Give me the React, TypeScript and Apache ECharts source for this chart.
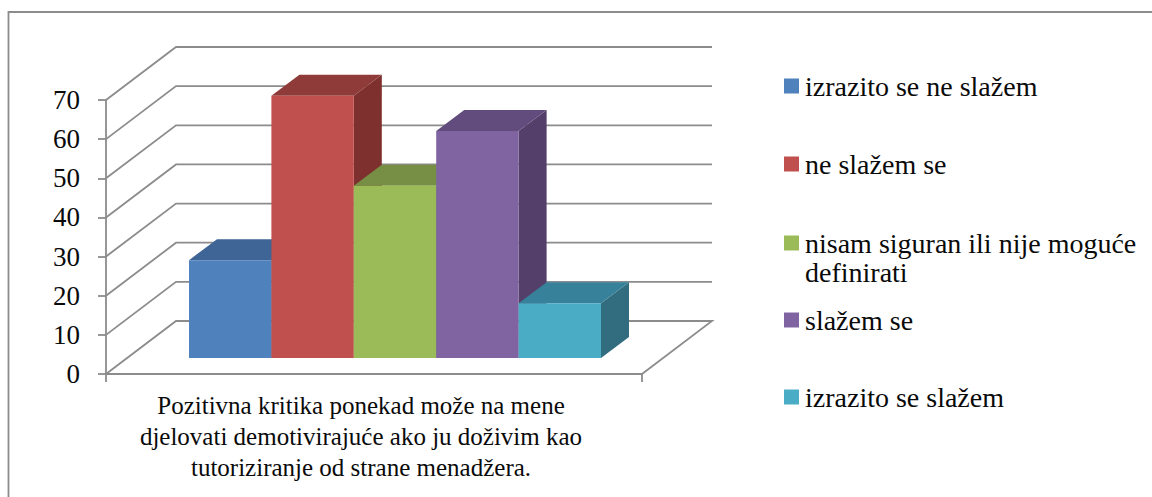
import React, { useEffect, useRef } from "react";
import * as echarts from "echarts";

const categories = ["Pozitivna kritika ponekad može na mene\ndjelovati demotivirajuće ako ju doživim kao\ntutoriziranje od strane menadžera."];
const seriesNames = ["izrazito se ne slažem", "ne slažem se", "nisam siguran ili nije moguće definirati", "slažem se", "izrazito se slažem"];
const seriesValues = [25, 67, 44, 58, 14];
const frontColors = ["#4F81BD", "#C0504D", "#9BBB59", "#8064A2", "#4BACC6"];
const topColors = ["#3E6595", "#8F3B39", "#768F44", "#624C7E", "#37819A"];
const sideColors = ["#335479", "#7E302E", "#617536", "#533F69", "#316D7F"];
const yTicks = [0, 10, 20, 30, 40, 50, 60, 70];
const legendCenters = [86, 164, 243, 320, 397];

const FONT = "Liberation Serif";
const LINE = "#8C8C8C";
const INK = "#0A0A0A";

export default function App() {
  const ref = useRef<HTMLDivElement>(null);
  useEffect(() => {
    document.body.style.margin = "0";
    const chart = echarts.init(ref.current!, null, { renderer: "svg" });

    const wallDx = 70, wallDy = 53;
    const barOffX = 83, barOffY = 16, barW = 82.4, depthX = 28, depthY = 21;

    const wallSeries: any = {
      type: "custom",
      name: "walls",
      silent: true,
      z: 1,
      clip: false,
      data: yTicks.map((v) => [0, v]),
      encode: { x: 0, y: 1 },
      renderItem: (_p: any, api: any) => {
        const v = api.value(1);
        const c = api.coord([0, v]);
        const w = api.size([1, 0])[0];
        const l = c[0] - w / 2, r = c[0] + w / 2, y = c[1];
        const style = { stroke: LINE, lineWidth: 1.8, fill: "none" };
        const pts = [[l, y], [l + wallDx, y - wallDy], [r + wallDx, y - wallDy]];
        if (v === 0) pts.push([r, y]);
        return { type: "polyline", shape: { points: pts }, style };
      },
    };

    const barSeries: any[] = seriesNames.map((name, i) => ({
      type: "custom",
      name,
      z: 2 + i,
      clip: false,
      silent: true,
      itemStyle: { color: frontColors[i] },
      data: [[0, seriesValues[i]]],
      encode: { x: 0, y: 1 },
      renderItem: (_p: any, api: any) => {
        const top = api.coord([0, api.value(1)]);
        const base = api.coord([0, 0]);
        const w = api.size([1, 0])[0];
        const x0 = base[0] - w / 2 + barOffX + i * barW;
        const x1 = x0 + barW;
        const yb = base[1] - barOffY;
        const yt = top[1] - barOffY;
        return {
          type: "group",
          children: [
            { type: "polygon", shape: { points: [[x1, yt], [x1 + depthX, yt - depthY], [x1 + depthX, yb - depthY], [x1, yb]] }, style: { fill: sideColors[i] } },
            { type: "polygon", shape: { points: [[x0, yt], [x0 + depthX, yt - depthY], [x1 + depthX, yt - depthY], [x1, yt]] }, style: { fill: topColors[i] } },
            { type: "rect", shape: { x: x0, y: yt, width: barW, height: yb - yt }, style: { fill: frontColors[i] } },
          ],
        };
      },
    }));

    const legends = seriesNames.map((name, i) => ({
      show: true,
      data: [name],
      left: 784,
      top: legendCenters[i] - 14,
      padding: 0,
      orient: "vertical",
      icon: "rect",
      itemWidth: 15,
      itemHeight: 15,
      selectedMode: false,
      formatter: (n: string) => (n.endsWith(" definirati") ? n.replace(" definirati", "") : n),
      textStyle: { fontFamily: FONT, fontSize: 28, color: INK, padding: [0, 0, 0, 1] },
    }));

    chart.setOption({
      animation: false,
      backgroundColor: "#ffffff",
      textStyle: { fontFamily: FONT },
      grid: { left: 106, right: 510, top: 100, bottom: 123, containLabel: false },
      legend: legends,
      xAxis: {
        type: "category",
        data: categories,
        axisLine: { show: true, lineStyle: { color: LINE, width: 1.8 } },
        axisTick: { show: true, length: 8, lineStyle: { color: LINE, width: 1.8 } },
        axisLabel: { interval: 0, fontFamily: FONT, fontSize: 25, color: INK, lineHeight: 31, margin: 16, padding: [0, 26, 0, 0] },
      },
      yAxis: {
        type: "value",
        min: 0,
        max: 70,
        interval: 10,
        splitLine: { show: false },
        axisLine: { show: true, lineStyle: { color: LINE, width: 1.8 } },
        axisTick: { show: true, length: 8, lineStyle: { color: LINE, width: 1.8 } },
        axisLabel: { fontFamily: FONT, fontSize: 27, color: INK, margin: 26 },
      },
      series: [wallSeries, ...barSeries],
      graphic: [
        { type: "rect", silent: true, z: 0, shape: { x: 8.5, y: 12, width: 1300, height: 700 }, style: { fill: "none", stroke: LINE, lineWidth: 1.8 } },
        { type: "text", silent: true, x: 805, y: 258, style: { text: "definirati", fontFamily: FONT, fontSize: 28, fill: INK, verticalAlign: "top" } },
      ],
    });
    return () => chart.dispose();
  }, []);
  return <div ref={ref} style={{ width: 1152, height: 497 }} />;
}
